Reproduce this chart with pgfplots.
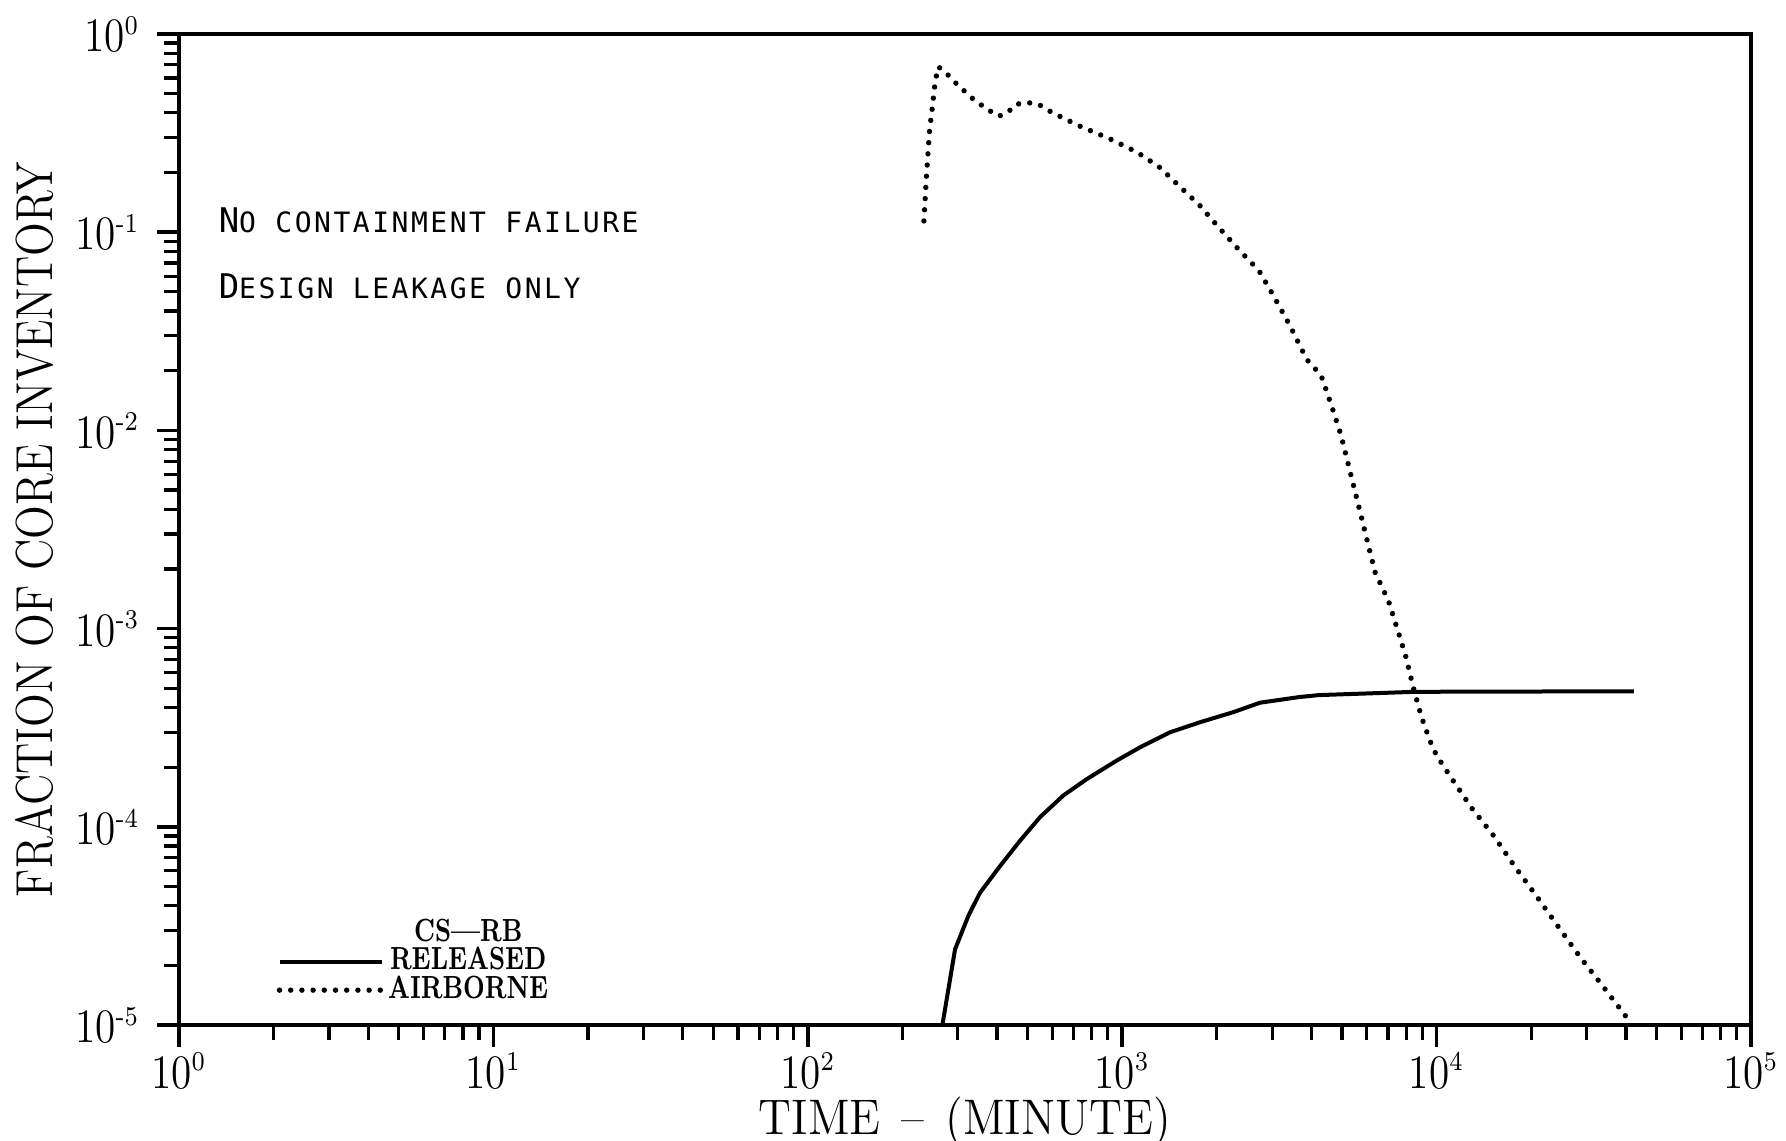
\documentclass[border=0pt]{standalone}
\usepackage{fontspec}
\usepackage{graphicx}
\usepackage{pgfplots}
\pgfplotsset{compat=1.18}
\newfontfamily\plotfont[LetterSpace=9]{DejaVu Sans Mono}
\newcommand{\legtext}[1]{\scalebox{0.74}[1]{\fontsize{8}{9}\selectfont\bfseries #1}}
\newcommand{\tl}[1]{\scalebox{0.86}[1]{$10^{\mbox{\fontsize{6.8}{7}\selectfont #1}}$}}

\pgfplotstableread{
t f
234 0.114
239 0.204
244 0.328
250 0.451
254 0.572
260 0.684
273 0.645
297 0.561
336 0.469
373 0.416
405 0.385
431 0.400
459 0.442
499 0.451
542 0.442
601 0.400
739 0.341
909 0.297
1117 0.253
1318 0.212
1524 0.170
1761 0.137
2036 0.105
2352 0.0815
2718 0.0642
3011 0.0486
3409 0.034
3863 0.0228
4290 0.0190
4620 0.0135
4966 0.00946
5623 0.00428
6368 0.00193
7042 0.00137
7510 0.000988
8000 0.000714
8400 0.000516
8950 0.000358
9550 0.000269
10000 0.000229
11040 0.000180
12950 0.000124
15200 0.0000900
17800 0.0000625
20900 0.0000442
24600 0.0000307
28800 0.0000217
33800 0.0000157
41000 0.0000105
}\airborne

\pgfplotstableread{
t f
268 0.0000100
294 0.0000241
324 0.0000355
353 0.0000465
409 0.0000635
473 0.0000850
548 0.000112
650 0.000144
771 0.000174
961 0.000216
1140 0.000252
1420 0.000300
1767 0.000337
2256 0.000379
2744 0.000423
3675 0.000452
4217 0.000462
8540 0.000480
42400 0.000483
}\released

\begin{document}
\begin{tikzpicture}
\begin{axis}[
  xmode=log, ymode=log,
  scale only axis,
  width=393pt, height=247.75pt,
  xmin=1, xmax=1e5, ymin=1e-5, ymax=1,
  axis line style={line width=1.1pt},
  tick pos=left,
  tick align=outside,
  major tick length=5.5pt,
  minor tick length=3.8pt,
  every major tick/.style={line width=0.9pt, black},
  every minor tick/.style={line width=0.8pt, black},
  ticklabel style={font=\fontsize{11.5}{12}\selectfont},
  xticklabel style={inner sep=0pt, yshift=-1.2pt},
  yticklabel style={xshift=-0.8pt},
  xtick={1,10,100,1000,10000,100000},
  xticklabels={\tl{0},\tl{1},\tl{2},\tl{3},\tl{4},\tl{5}},
  ytick={1e-5,1e-4,1e-3,1e-2,1e-1,1},
  yticklabels={\tl{-5},\tl{-4},\tl{-3},\tl{-2},\tl{-1},\tl{0}},
  clip=false,
  legend style={draw=none, fill=none, at={(0.0617,0.016)}, anchor=south west,
    inner sep=0pt, row sep=-2pt, nodes={inner sep=1pt}},
  legend cell align=center,
  legend image code/.code={\draw[#1] (0pt,0pt) -- (25.5pt,0pt);},
]
\addlegendimage{empty legend}
\addlegendentry{\legtext{CS---RB}}
\addplot[black, line width=1pt, line join=round] table[x=t,y=f]{\released};
\addlegendentry{\legtext{RELEASED}}
\addplot[black, line width=1.35pt, line cap=round, dash pattern=on 0pt off 2.8pt] table[x=t,y=f]{\airborne};
\addlegendentry{\legtext{AIRBORNE}}

\node[anchor=base west, inner sep=0pt] at (rel axis cs:0.0248,0.7997)
  {\plotfont\fontsize{8.5}{8}\selectfont N\fontsize{7}{8}\selectfont O CONTAINMENT FAILURE};
\node[anchor=base west, inner sep=0pt] at (rel axis cs:0.0248,0.733)
  {\plotfont\fontsize{8.5}{8}\selectfont D\fontsize{7}{8}\selectfont ESIGN LEAKAGE ONLY};

\node[rotate=90, anchor=center, inner sep=0pt] at ([xshift=-36.25pt]rel axis cs:0,0.5)
  {\scalebox{0.85}[1]{\fontsize{13}{14}\selectfont FRACTION OF CORE INVENTORY}};
\node[anchor=base, inner sep=0pt] at ([yshift=-27.4pt]rel axis cs:0.5,0)
  {\scalebox{0.93}[1]{\fontsize{12.5}{13}\selectfont TIME\hspace{0.45em}--\hspace{0.45em}(MINUTE)}};

\coordinate (BL) at (rel axis cs:0,0);
\coordinate (TR) at (rel axis cs:1,1);
\end{axis}
\pgfresetboundingbox
\path[use as bounding box] ([shift={(-44.75pt,-28.75pt)}]BL) rectangle ([shift={(8.75pt,8.5pt)}]TR);
\end{tikzpicture}
\end{document}
